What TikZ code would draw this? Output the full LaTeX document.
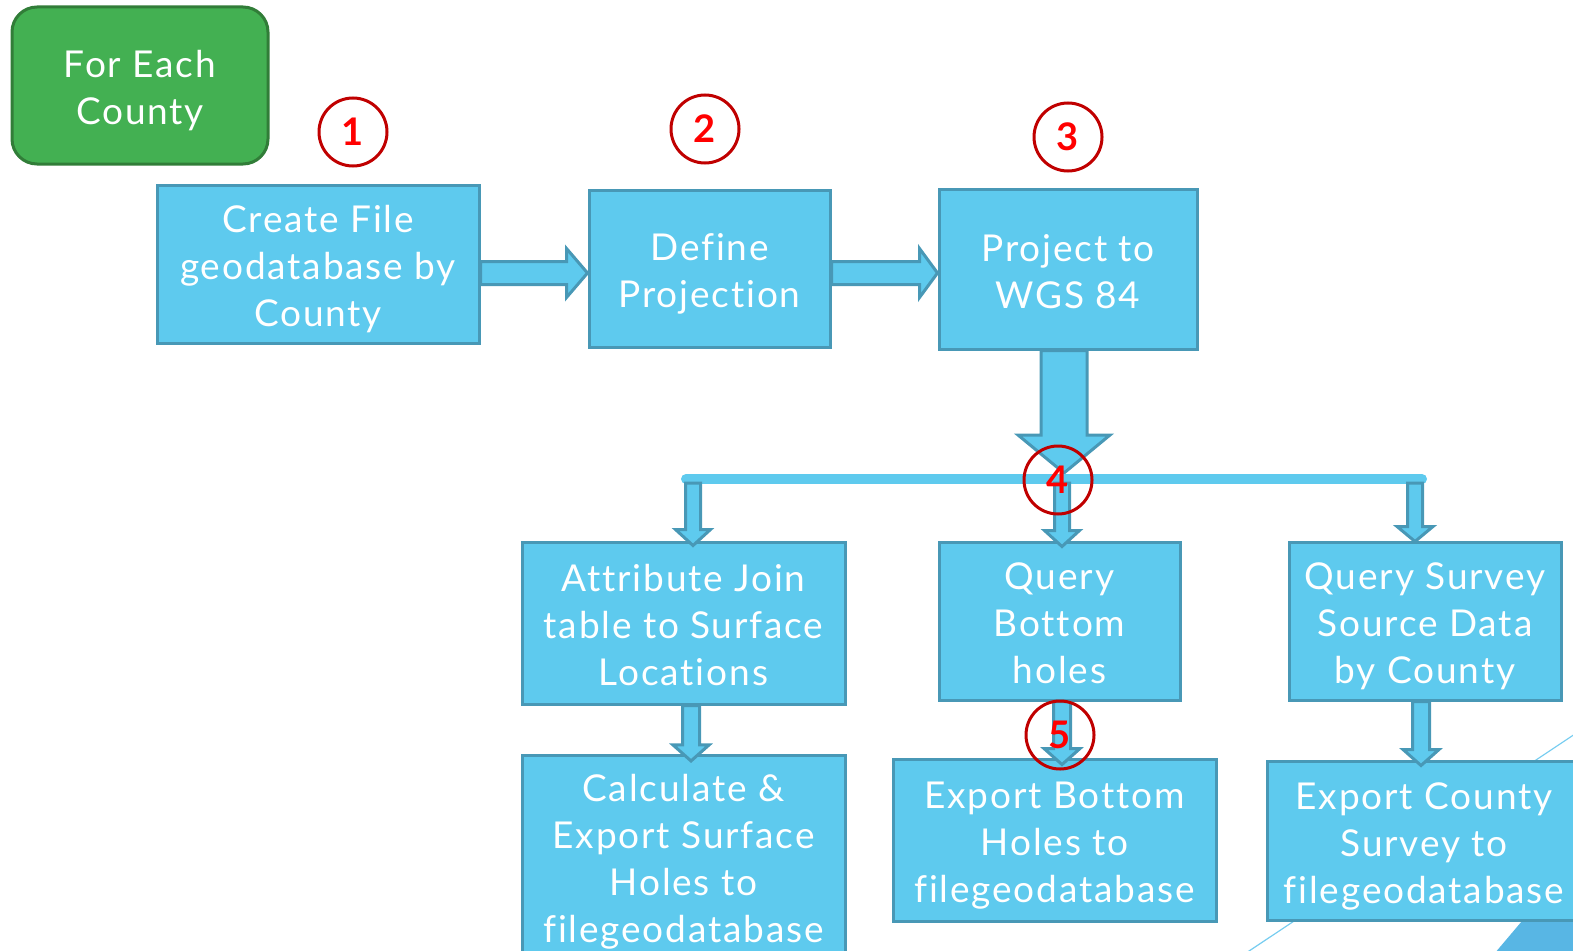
\documentclass[tikz,border=0pt]{standalone}
\usepackage{fontspec}
\setmainfont{Lato}[Ligatures=NoCommon, LetterSpace=5]
\usetikzlibrary{calc}
\definecolor{boxfill}{RGB}{94,202,238}
\definecolor{boxline}{RGB}{72,152,182}
\definecolor{greenfill}{RGB}{67,176,82}
\definecolor{greenline}{RGB}{49,125,56}
\definecolor{circred}{RGB}{192,0,0}
\definecolor{numred}{RGB}{255,0,0}
\definecolor{decoblue}{RGB}{120,205,240}
\definecolor{hatchblue}{RGB}{88,182,228}
% multi-line box text, set a little below the centre as in the original
\newcommand\boxtext[1]{\begin{tabular}{@{}c@{}}\rule{0pt}{46pt}#1\end{tabular}}
\tikzset{
  stepbox/.style={draw=boxline, fill=boxfill, line width=3pt, text=white,
    inner sep=0pt, font=\fontsize{37}{47}\selectfont},
  startbox/.style={draw=greenline, fill=greenfill, line width=3pt, text=white,
    inner sep=0pt, rounded corners=25pt, font=\fontsize{37}{47}\selectfont},
  blockarrow/.style={draw=boxline, fill=boxfill, line width=3pt, line join=miter},
  barline/.style={draw=boxfill, line width=10pt, line cap=round},
  numcircle/.style={circle, draw=circred, line width=3pt, minimum size=68pt, inner sep=0pt,
    text=numred, font=\fontsize{38}{38}\selectfont\bfseries},
  deco/.style={draw=decoblue, line width=1.2pt}
}
% from-anchor, to-anchor, x, shaft half, head half, head length, overlap
\newcommand\varrow[7]{%
\draw[blockarrow] (#1 -| #3-#4,0) -- ($(#2 -| #3-#4,0)+(0,#7-#6)$) -- ($(#2 -| #3-#5,0)+(0,#7-#6)$) -- ($(#2 -| #3,0)+(0,#7)$) -- ($(#2 -| #3+#5,0)+(0,#7-#6)$) -- ($(#2 -| #3+#4,0)+(0,#7-#6)$) -- (#1 -| #3+#4,0) -- cycle;}
% from, to, y, shaft half, head half, head length
\newcommand\harrow[6]{%
\draw[blockarrow] (#1.east |- 0,#3-#4) -- ($(#2.west |- 0,#3-#4)+(-#6,0)$) -- ($(#2.west |- 0,#3-#5)+(-#6,0)$) -- (#2.west |- 0,#3) -- ($(#2.west |- 0,#3+#5)+(-#6,0)$) -- ($(#2.west |- 0,#3+#4)+(-#6,0)$) -- (#1.east |- 0,#3+#4) -- cycle;}
\begin{document}
\begin{tikzpicture}[x=1pt,y=-1pt]
\useasboundingbox (0,0) rectangle (1573,950);
\clip (0,0) rectangle (1573,950);
% background decoration
\draw[deco] (1240,957) -- (1590,724);
\fill[hatchblue] (1522,921) -- (1590,921) -- (1590,960) -- (1489,960) -- cycle;
% start box
\node[startbox, minimum width=256pt, minimum height=157pt] (start) at (140,85.5) {\boxtext{For Each\\County}};
% steps
\node[stepbox, minimum width=322pt, minimum height=158pt] (b1) at (318,264) {\boxtext{Create File\\geodatabase by\\County}};
\node[stepbox, minimum width=241pt, minimum height=157pt] (b2) at (709.5,268.5) {\boxtext{Define\\Projection}};
\node[stepbox, minimum width=258pt, minimum height=160pt] (b3) at (1068,269) {\boxtext{Project to\\WGS 84}};
\node[stepbox, minimum width=323pt, minimum height=162pt] (b4) at (683.5,623) {\boxtext{Attribute Join\\table to Surface\\Locations}};
\node[stepbox, minimum width=241pt, minimum height=158pt] (b5) at (1059.5,621) {\boxtext{Query\\Bottom\\holes}};
\node[stepbox, minimum width=272pt, minimum height=158pt] (b6) at (1425,621) {\boxtext{Query Survey\\Source Data\\by County}};
\node[stepbox, minimum width=323pt, minimum height=194pt] (b7) at (683.5,856) {\boxtext{Calculate \&\\Export Surface\\Holes to\\filegeodatabase}};
\node[stepbox, minimum width=323pt, minimum height=162pt] (b8) at (1054.5,840) {\boxtext{Export Bottom\\Holes to\\filegeodatabase}};
\node[stepbox, minimum width=314pt, minimum height=159pt] (b9) at (1424,840.5) {\boxtext{Export County\\Survey to\\filegeodatabase}};
% connectors
\harrow{b1}{b2}{273}{11.5}{24.5}{21}
\harrow{b2}{b3}{273}{11.5}{24.5}{18}
\coordinate (hub) at (1064,473);
\coordinate (barL) at (686,479);
\coordinate (barR) at (1422,479);
\coordinate (barB) at (0,483);
\varrow{b3.south}{hub}{1064}{23}{46}{38}{0}
\draw[barline] (barL) -- (barR);
\varrow{barB}{b4.north}{693}{7.5}{17.5}{16}{5}
\varrow{barB}{b5.north}{1062}{7.5}{17.5}{16}{6}
\varrow{barB}{b6.north}{1415}{7.5}{18}{15}{1}
\varrow{b4.south}{b7.north}{691}{8.5}{18}{16}{7}
\varrow{b5.south}{b8.north}{1062}{8.5}{18}{16}{7}
\varrow{b6.south}{b9.north}{1421}{8.5}{18}{16}{6}
% step numbers
\node[numcircle] (n1) at (353,132) {1};
\node[numcircle] (n2) at (705,129) {2};
\node[numcircle] (n3) at (1068,137) {3};
\node[numcircle] (n4) at (1058,480) {4};
\node[numcircle] (n5) at (1060,735) {5};
\end{tikzpicture}
\end{document}
